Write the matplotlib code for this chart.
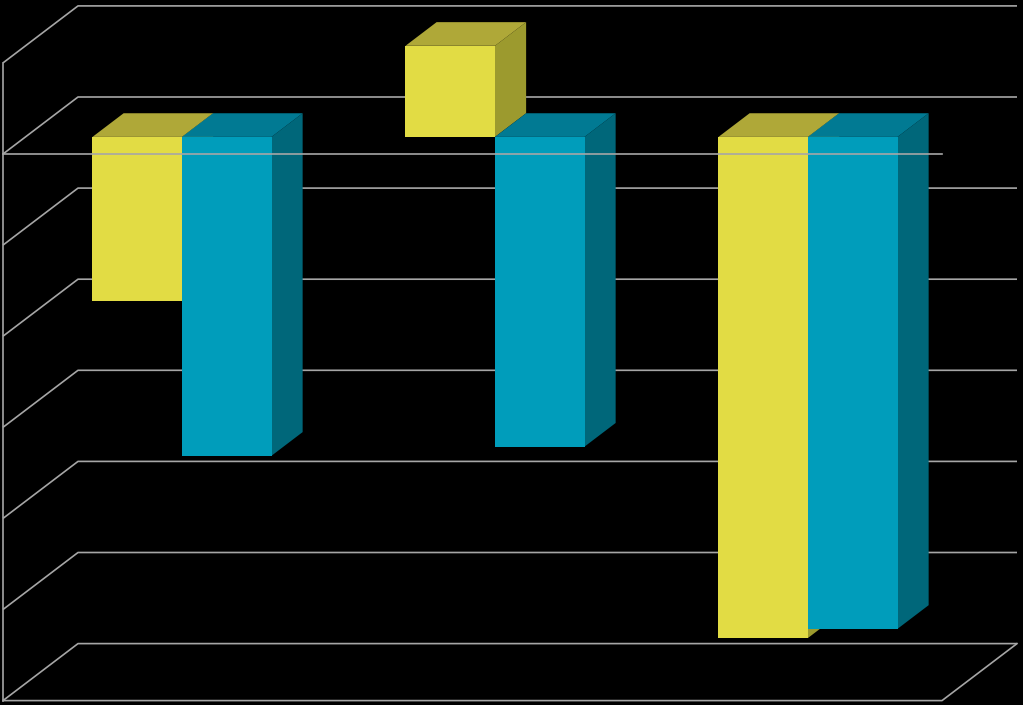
import matplotlib
matplotlib.use("Agg")
import matplotlib.pyplot as plt
from matplotlib.patches import Polygon

# chart data (no labels are shown on the reference)
categories = ["Group 1", "Group 2", "Group 3"]
yellow_values = [-1.8, 1.0, -5.5]
blue_values = [-3.5, -3.4, -5.4]
y_ticks = [1, 0, -1, -2, -3, -4, -5, -6]

# oblique 3D look: moving from the front plane (z=0) to the back wall (z=1)
DX = 75 / 313      # shift right, in category units
DY = 57 / 91.1     # shift up, in value units
Z_FRONT, Z_BACK = 0.30, 0.715   # depth of the bars
BAR_W = 0.286

GRID = "#a6a6a6"
YELLOW = ("#e2dc44", "#afa838", "#9c9a2e")   # front, top, side
BLUE = ("#009dbb", "#017a93", "#00677a")


def proj(x, v, z):
    return x + z * DX, v + z * DY


fig = plt.figure(figsize=(10.23, 7.05), dpi=100, facecolor="black")
ax = fig.add_axes([0, 0, 1, 1])
ax.set_facecolor("black")
ax.set_xlim(-0.5 - 3 / 313, -0.5 + 1020 / 313)
ax.set_ylim(-551 / 91.1, 154 / 91.1)
ax.axis("off")

x_lo, x_hi = -0.5, len(categories) - 0.5
v_floor, v_top = min(y_ticks), max(y_ticks)

# back wall gridlines + left wall diagonals
for v in y_ticks:
    p0 = proj(x_lo, v, 0)
    p1 = proj(x_lo, v, 1)
    p2 = proj(x_hi, v, 1)
    ax.plot([p0[0], p1[0], p2[0]], [p0[1], p1[1], p2[1]],
            color=GRID, lw=1.2, zorder=1, solid_capstyle="butt")

# left wall front edge and floor
ax.plot([x_lo, x_lo], [v_floor, v_top], color=GRID, lw=1.2, zorder=1)
f1 = proj(x_hi, v_floor, 0)
f2 = proj(x_hi, v_floor, 1)
ax.plot([x_lo, f1[0], f2[0]], [v_floor, f1[1], f2[1]], color=GRID, lw=1.2, zorder=1)


def draw_bar(x0, value, colors, z):
    lower, upper = min(0, value), max(0, value)
    x1 = x0 + BAR_W
    side = [proj(x1, lower, Z_FRONT), proj(x1, upper, Z_FRONT),
            proj(x1, upper, Z_BACK), proj(x1, lower, Z_BACK)]
    top = [proj(x0, upper, Z_FRONT), proj(x1, upper, Z_FRONT),
           proj(x1, upper, Z_BACK), proj(x0, upper, Z_BACK)]
    ax.add_patch(Polygon(side, closed=True, facecolor=colors[2], edgecolor="none", zorder=z))
    ax.add_patch(Polygon(top, closed=True, facecolor=colors[1], edgecolor="none", zorder=z))
    fx, fy = proj(x0, lower, Z_FRONT)
    ax.bar(fx, upper - lower, width=BAR_W, bottom=fy, align="edge",
           color=colors[0], edgecolor="none", zorder=z + 0.5)


z = 2
for i, _ in enumerate(categories):
    draw_bar(i - BAR_W, yellow_values[i], YELLOW, z)
    draw_bar(i, blue_values[i], BLUE, z + 1)
    z += 2

# zero line in the front plane, over the bars
ax.plot([x_lo, x_hi], [0, 0], color=GRID, lw=1.2, zorder=20)

fig.savefig("out.png", dpi=100, facecolor="black")
